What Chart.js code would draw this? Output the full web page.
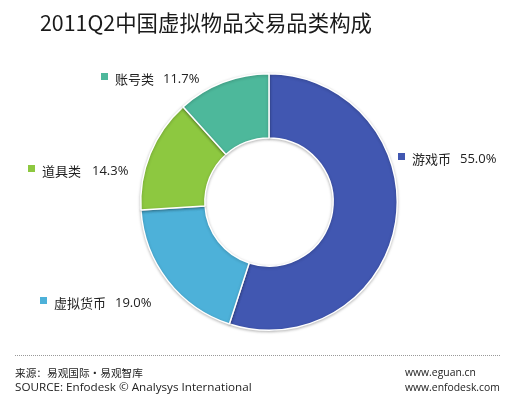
<!DOCTYPE html>
<html>
<head>
<meta charset="utf-8">
<script src="https://cdn.jsdelivr.net/npm/chart.js@4.4.0/dist/chart.umd.min.js"></script>
<style>
  html, body { margin: 0; padding: 0; background: #fff; }
  #wrap { position: relative; width: 521px; height: 395px; }
</style>
</head>
<body>
<div id="wrap"><canvas id="chart" width="521" height="395"></canvas></div>
<script>
// data
const categories = ['游戏币', '虚拟货币', '道具类', '账号类'];
const shares = [55.0, 19.0, 14.3, 11.7];
const colors = ['#4157B1', '#4DB1D9', '#8DC840', '#4DB89B'];

// where each label sits (square x, text middle y)
const labelPos = [
  { x: 398, y: 159 },
  { x: 40, y: 303 },
  { x: 28, y: 171 },
  { x: 101, y: 79 }
];
// x of the percentage text
const valueX = [460, 115, 92, 163];

const CJK = '"Microsoft YaHei", "Noto Sans CJK SC", sans-serif';
const LAT = '"Open Sans", "Noto Sans", sans-serif';

// pick a font size so the text spans roughly the width seen in the original
function fitFont(ctx, text, family, width) {
  ctx.font = '20px ' + family;
  const size = 20 * width / ctx.measureText(text).width;
  ctx.font = size.toFixed(2) + 'px ' + family;
}

const decor = {
  id: 'decor',
  beforeDatasetsDraw(chart) {
    const ctx = chart.ctx;
    ctx.save();
    ctx.shadowColor = 'rgba(0,0,0,0.25)';
    ctx.shadowBlur = 3;
    ctx.shadowOffsetY = 1;
  },
  afterDatasetsDraw(chart) {
    chart.ctx.restore();
  },
  afterDraw(chart) {
    const ctx = chart.ctx;
    ctx.save();
    ctx.shadowColor = 'transparent';
    ctx.textBaseline = 'middle';
    ctx.textAlign = 'left';

    // title
    ctx.fillStyle = '#1a1a1a';
    const title = '2011Q2中国虚拟物品交易品类构成';
    fitFont(ctx, title, CJK, 332);
    ctx.fillText(title, 40, 23);

    // slice labels
    categories.forEach((c, i) => {
      const p = labelPos[i];
      ctx.fillStyle = colors[i];
      ctx.fillRect(p.x, p.y - 6, 7, 7);
      ctx.fillStyle = '#222';
      ctx.font = '13px ' + CJK;
      ctx.fillText(c, p.x + 14, p.y);
      ctx.font = '13px ' + LAT;
      ctx.fillText(shares[i].toFixed(1) + '%', valueX[i], p.y);
    });

    // dotted rule
    ctx.fillStyle = '#999';
    for (let x = 15; x < 501; x += 2) ctx.fillRect(x, 355, 1, 1);

    // footer
    ctx.fillStyle = '#222';
    const src1 = '来源：易观国际·易观智库';
    fitFont(ctx, src1, CJK, 128);
    ctx.fillText(src1, 15, 373);
    const src2 = 'SOURCE: Enfodesk © Analysys International';
    fitFont(ctx, src2, LAT, 237);
    ctx.fillText(src2, 15, 388);
    fitFont(ctx, 'www.enfodesk.com', LAT, 95);
    ctx.fillText('www.eguan.cn', 405, 373);
    ctx.fillText('www.enfodesk.com', 405, 388);
    ctx.restore();
  }
};

new Chart(document.getElementById('chart'), {
  type: 'doughnut',
  data: {
    labels: categories,
    datasets: [{
      data: shares,
      backgroundColor: colors,
      borderColor: '#fff',
      borderWidth: 1.5
    }]
  },
  options: {
    responsive: false,
    animation: false,
    cutout: '50%',
    layout: { padding: { left: 140, right: 123, top: 73, bottom: 64 } },
    plugins: {
      legend: { display: false },
      tooltip: { enabled: false }
    }
  },
  plugins: [decor]
});
</script>
</body>
</html>
